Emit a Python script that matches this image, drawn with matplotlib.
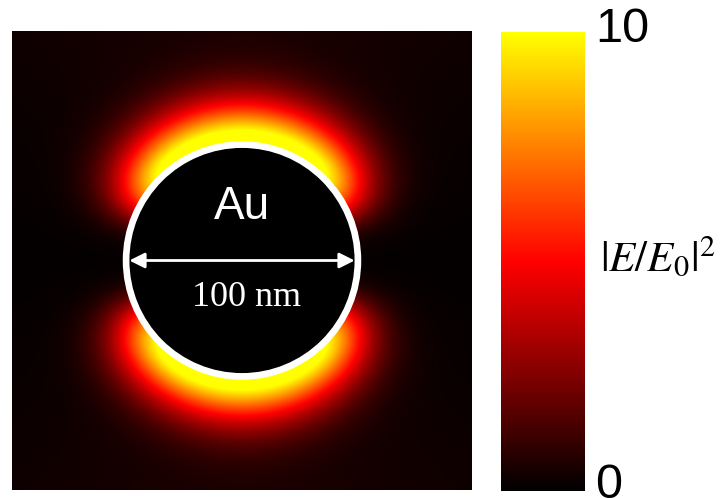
import numpy as np
import matplotlib
matplotlib.use("Agg")
import matplotlib.pyplot as plt
from matplotlib.colors import LinearSegmentedColormap
from matplotlib.patches import Circle

plt.rcParams['mathtext.fontset'] = 'stix'

# particle and simulation window (nm)
radius = 50.0
half_width = 99.0
n_grid = 600

# near-field lobe parameters (|E/E0|^2)
peak = 11.0          # intensity right at the poles
decay_len = 18.5     # radial decay length from the surface, nm
decay_pow = 1.7
lobe_angle = 65.0    # angular half-width of each lobe, deg
lobe_pow = 6.0
bg_equator = 0.1
bg_pole = 0.5

cbar_ticks = [0, 10]
cbar_labels = ['0', '10']
vmin, vmax = 0, 10

# field map on a square grid, polarisation along y
x = np.linspace(-half_width, half_width, n_grid)
X, Y = np.meshgrid(x, x)
R = np.hypot(X, Y)
theta = np.degrees(np.arctan2(np.abs(X), np.abs(Y)))   # angle from the nearest pole
cos2 = np.cos(np.radians(theta))**2
lobe = np.exp(-(theta / lobe_angle)**lobe_pow)
radial = np.exp(-(np.clip(R - radius, 0, None) / decay_len)**decay_pow)
field = peak * lobe * radial + bg_equator + (bg_pole - bg_equator) * cos2
field[R < radius] = 0.0

cmap = LinearSegmentedColormap.from_list('blk_red_yel', [(0, 0, 0), (1, 0, 0), (1, 1, 0)])

fig = plt.figure(figsize=(7.28, 4.98), dpi=100)
ax = fig.add_axes([12/728, 8/498, 460/728, 459/498])
im = ax.imshow(field, cmap=cmap, vmin=vmin, vmax=vmax, origin='lower',
               extent=[-half_width, half_width, -half_width, half_width],
               interpolation='bilinear')
ax.set_xlim(-half_width, half_width)
ax.set_ylim(-half_width, half_width)
ax.axis('off')

# particle outline + diameter arrow
ax.add_patch(Circle((0, 0), radius, fill=False, ec='white', lw=4.8))
ax.annotate('', xy=(-48.6, 0), xytext=(48.6, 0),
            arrowprops=dict(arrowstyle='<|-|>,head_length=0.4,head_width=0.2',
                            color='white', lw=2, mutation_scale=23,
                            shrinkA=0, shrinkB=0))
ax.text(0, 23, 'Au', color='white', fontsize=33, family='Liberation Sans',
        ha='center', va='center')
ax.text(2, -16, '100 nm', color='white', fontsize=26, family='Liberation Serif',
        ha='center', va='center')

# colour bar, end labels placed by hand
cax = fig.add_axes([501/728, 7/498, 84/728, 459/498])
cb = fig.colorbar(im, cax=cax, ticks=cbar_ticks)
cb.outline.set_visible(False)
cb.ax.set_yticklabels([])
cb.ax.tick_params(length=0)
fig.text(595/728, 1 - 30/498, cbar_labels[1], family='Liberation Sans', fontsize=35,
         ha='left', va='center')
fig.text(595/728, 1 - 485/498, cbar_labels[0], family='Liberation Sans', fontsize=35,
         ha='left', va='center')
fig.text(600/728, 1 - 258/498, r'$|E/E_0|^2$', fontsize=31, ha='left', va='center')

fig.savefig('out.png', dpi=100)
